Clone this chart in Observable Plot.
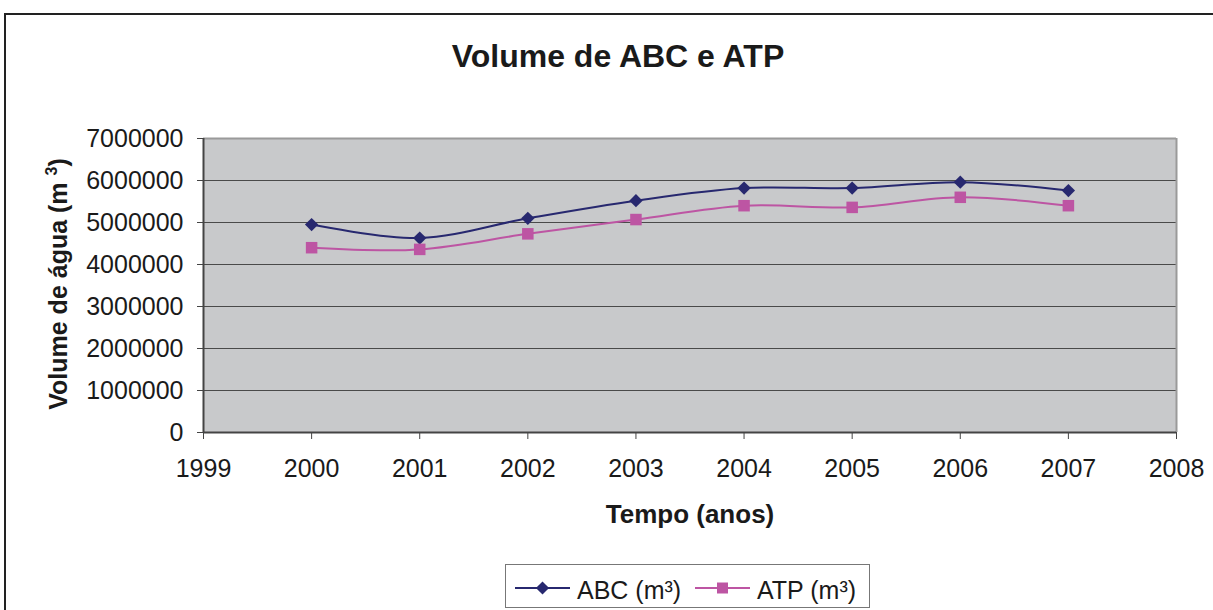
<!DOCTYPE html>
<html>
<head>
<meta charset="utf-8">
<script src="https://cdn.jsdelivr.net/npm/d3@7"></script>
<script src="https://cdn.jsdelivr.net/npm/@observablehq/plot@0.6"></script>
<style>
  html, body { margin: 0; padding: 0; background: #fff; overflow: hidden; }
  body { width: 1213px; height: 610px; font-family: "Liberation Sans", Arial, sans-serif; color: #1a1a1a; }
  #wrap { position: relative; width: 1213px; height: 610px; }
  #frame { position: absolute; left: 4px; top: 13px; width: 1230px; height: 620px; border-left: 2px solid #222; border-top: 2px solid #222; box-sizing: border-box; }
  #chart { position: absolute; left: 0; top: 0; }
  #overlay { position: absolute; left: 0; top: 0; }
</style>
</head>
<body>
<div id="wrap">
  <div id="frame"></div>
  <div id="chart"></div>
  <svg id="overlay" width="1213" height="610"></svg>
</div>
<script>
const years = [2000, 2001, 2002, 2003, 2004, 2005, 2006, 2007];
const abc = [4950000, 4630000, 5100000, 5520000, 5820000, 5820000, 5960000, 5760000];
const atp = [4400000, 4360000, 4730000, 5070000, 5400000, 5360000, 5600000, 5400000];
const seriesNames = ["ABC (m³)", "ATP (m³)"];
const seriesColors = ["#27286f", "#bd55a3"];
const seriesSymbols = ["diamond2", "square"];
const xTicks = [1999, 2000, 2001, 2002, 2003, 2004, 2005, 2006, 2007, 2008];
const yTicks = [0, 1000000, 2000000, 3000000, 4000000, 5000000, 6000000, 7000000];
const titleText = "Volume de ABC e ATP";
const xLabel = "Tempo (anos)";
const yLabel = "Volume de água (m";

const FONT = "'Liberation Sans', Arial, sans-serif";

const rows = [];
years.forEach((y, i) => {
  rows.push({year: y, value: abc[i], series: seriesNames[0]});
  rows.push({year: y, value: atp[i], series: seriesNames[1]});
});

const plot = Plot.plot({
  width: 1213,
  height: 610,
  marginLeft: 203,
  marginRight: 37,
  marginTop: 138,
  marginBottom: 178,
  style: {fontFamily: FONT, fontSize: "25px", color: "#1a1a1a", background: "transparent"},
  x: {domain: [1999, 2008], label: null},
  y: {domain: [0, 7000000], label: null},
  color: {domain: seriesNames, range: seriesColors},
  marks: [
    Plot.frame({fill: "#c8c9cb", stroke: null}),
    Plot.ruleY(yTicks.filter(d => d > 0), {stroke: "#4a4a4a", strokeWidth: 1.2}),
    Plot.ruleX([2008], {stroke: "#9a9a9a", strokeWidth: 2}),
    Plot.ruleY([7000000], {stroke: "#9a9a9a", strokeWidth: 2}),
    Plot.axisX({ticks: xTicks, tickFormat: d => String(d), tickSize: 7, tickPadding: 20, stroke: "#444", fill: "#1a1a1a", fontSize: 25}),
    Plot.axisY({ticks: yTicks, tickFormat: d => String(d), tickSize: 6, tickPadding: 14, stroke: "#444", fill: "#1a1a1a", fontSize: 25}),
    Plot.ruleX([1999], {stroke: "#444", strokeWidth: 2}),
    Plot.ruleY([0], {stroke: "#444", strokeWidth: 2}),
    Plot.line(rows, {x: "year", y: "value", stroke: "series", z: "series", strokeWidth: 2, curve: "catmull-rom"}),
    Plot.dot(rows.filter(d => d.series === seriesNames[0]), {x: "year", y: "value", fill: seriesColors[0], symbol: seriesSymbols[0], r: 6}),
    Plot.dot(rows.filter(d => d.series === seriesNames[1]), {x: "year", y: "value", fill: seriesColors[1], symbol: seriesSymbols[1], r: 6.5})
  ]
});
document.getElementById("chart").appendChild(plot);

const ov = d3.select("#overlay").style("font-family", FONT);
ov.append("text").attr("x", 618).attr("y", 67).attr("text-anchor", "middle")
  .attr("font-size", 32).attr("font-weight", "bold").attr("fill", "#1a1a1a").text(titleText);
ov.append("text").attr("x", 690).attr("y", 523).attr("text-anchor", "middle")
  .attr("font-size", 26).attr("font-weight", "bold").attr("fill", "#1a1a1a").text(xLabel);
const yl = ov.append("text").attr("transform", "translate(67,284) rotate(-90)").attr("text-anchor", "middle")
  .attr("font-size", 25).attr("font-weight", "bold").attr("fill", "#1a1a1a");
yl.append("tspan").text(yLabel + " ");
yl.append("tspan").attr("font-size", 16).attr("dy", -10).text("3");
yl.append("tspan").attr("dy", 10).text(")");

// legend
const lg = ov.append("g");
lg.append("rect").attr("x", 505.5).attr("y", 564.5).attr("width", 364).attr("height", 43)
  .attr("fill", "#fff").attr("stroke", "#777").attr("stroke-width", 1);
const items = [
  {x0: 515, tx: 577, name: seriesNames[0], color: seriesColors[0], sym: d3.symbolDiamond2, size: 110},
  {x0: 695, tx: 757, name: seriesNames[1], color: seriesColors[1], sym: d3.symbolSquare, size: 121}
];
items.forEach(it => {
  lg.append("line").attr("x1", it.x0).attr("x2", it.x0 + 55).attr("y1", 588).attr("y2", 588)
    .attr("stroke", it.color).attr("stroke-width", 2);
  lg.append("path").attr("d", d3.symbol(it.sym, it.size)()).attr("transform", `translate(${it.x0 + 27.5},588)`).attr("fill", it.color);
  lg.append("text").attr("x", it.tx).attr("y", 599).attr("font-size", 25).attr("fill", "#1a1a1a").text(it.name);
});
</script>
</body>
</html>
